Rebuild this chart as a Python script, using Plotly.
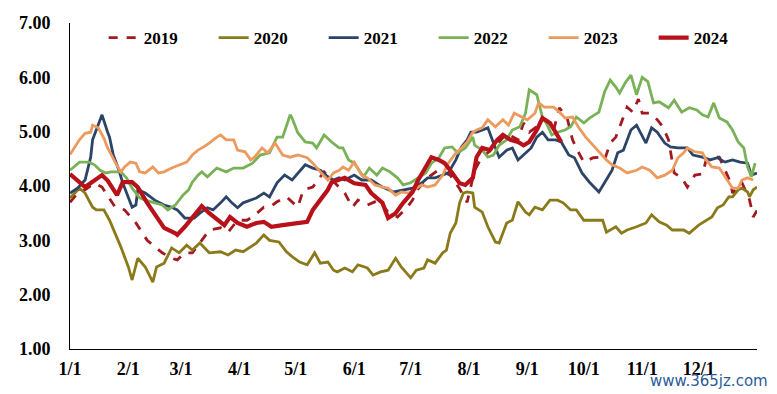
import plotly.graph_objects as go

# Day-of-year positions (0 = Jan 1) and values
d2019 = [0,4,8,13,17,19,24,29,35,41,49,54,57,61,65,70,74,80,84,89,94,97,103,106,110,115,121,124,129,133,135,
         146,150,153,158,164,169,174,179,182,185,190,196,202,207,211,215,218,228,232,238,241,244,248,251,257,260,264,
         267,270,273,278,282,284,287,290,293,296,299,302,304,308,312,315,318,320,321,325,328,332,336,338,342,345,348,
         351,352,357,361,363,365]
v2019 = [3.70,3.87,3.93,4.05,3.98,3.87,3.61,3.56,3.32,3.00,2.77,2.67,2.64,2.77,2.77,3.00,3.19,3.23,3.15,3.37,3.37,3.43,
         3.61,3.61,3.71,3.80,3.61,3.93,3.98,4.17,4.26,
         3.87,3.61,3.74,3.65,3.74,3.52,3.43,3.60,3.74,3.95,4.15,4.30,4.20,3.95,3.70,4.29,4.48,4.81,4.97,4.85,5.16,
         4.99,5.09,5.25,5.03,5.44,5.27,4.85,4.63,4.44,4.52,4.53,4.48,4.79,4.90,5.16,5.45,5.36,5.60,5.34,5.34,5.22,
         5.09,4.85,4.48,4.24,4.15,3.98,4.20,4.22,4.48,4.53,4.53,4.29,4.06,3.87,4.06,3.75,3.43,3.55]

d2020 = [0,5,8,12,14,18,21,27,31,33,36,40,44,46,50,54,58,62,65,69,74,80,84,88,92,96,99,103,106,111,115,118,122,126,
         130,133,137,140,142,146,150,153,158,161,165,169,173,176,181,184,188,190,194,198,200,202,205,207,209,211,214,
         215,219,222,226,228,230,232,235,238,242,244,247,251,255,259,262,266,269,273,276,283,285,290,293,296,301,306,
         309,313,317,320,326,329,334,337,341,344,347,350,352,355,357,360,361,363,365]
v2020 = [3.78,3.96,3.87,3.61,3.56,3.56,3.37,2.88,2.51,2.27,2.67,2.51,2.23,2.51,2.58,2.86,2.77,2.91,2.82,2.95,2.77,2.79,
         2.73,2.82,2.79,2.88,2.95,3.10,3.00,2.97,2.79,2.70,2.60,2.55,2.77,2.58,2.60,2.45,2.42,2.49,2.42,2.55,2.49,2.36,
         2.42,2.45,2.67,2.51,2.31,2.45,2.49,2.64,2.58,2.77,2.82,3.13,3.32,3.69,3.87,3.89,3.87,3.61,3.52,3.25,2.97,2.95,
         3.13,3.32,3.37,3.71,3.52,3.47,3.61,3.56,3.74,3.74,3.69,3.56,3.56,3.37,3.37,3.37,3.15,3.25,3.13,3.19,3.25,3.32,
         3.47,3.34,3.28,3.19,3.19,3.13,3.28,3.34,3.43,3.60,3.65,3.80,3.80,3.93,3.96,3.89,3.80,3.93,3.98]

d2021 = [0,4,8,11,12,15,17,20,21,23,26,28,31,33,35,36,40,45,50,54,57,61,66,69,73,76,80,83,86,89,92,96,99,103,106,110,
         114,118,122,125,129,133,137,140,143,146,151,155,160,166,172,177,182,187,190,194,198,201,205,208,211,213,216,219,
         222,225,228,232,235,238,242,245,248,251,254,258,261,265,268,272,276,281,284,288,291,294,298,301,306,309,312,
         316,319,323,328,331,336,340,344,348,352,356,360,362,365]
v2021 = [3.87,3.96,4.11,4.53,4.85,5.12,5.31,4.99,4.90,4.57,4.29,4.06,3.80,3.61,3.65,3.93,3.87,3.74,3.65,3.61,3.56,3.41,
         3.41,3.50,3.60,3.56,3.69,3.80,3.69,3.60,3.69,3.74,3.78,3.87,3.80,4.06,4.20,4.11,4.26,4.39,4.33,4.29,4.17,4.11,
         4.15,4.11,4.20,4.11,4.11,3.98,3.89,3.93,3.96,4.06,4.15,4.15,4.20,4.24,4.48,4.72,4.85,4.99,4.99,5.03,5.07,4.79,
         4.53,4.66,4.70,4.48,4.61,4.70,4.90,4.99,4.85,4.85,4.81,4.57,4.52,4.24,4.07,3.89,4.06,4.29,4.61,4.66,5.03,5.12,
         4.79,5.07,4.99,4.79,4.72,4.70,4.70,4.57,4.53,4.48,4.52,4.44,4.48,4.44,4.42,4.20,4.24]

d2022 = [0,5,10,13,16,19,22,27,30,33,37,40,45,49,52,56,60,63,65,68,70,73,78,83,87,92,97,101,106,110,113,117,118,121,
         125,129,131,135,139,143,145,148,151,156,159,163,166,170,174,177,181,185,189,192,196,199,203,206,210,214,215,
         219,222,225,228,232,235,239,242,244,248,251,253,256,259,263,266,269,273,276,281,284,287,290,292,295,298,301,
         304,307,310,313,318,321,325,329,333,336,339,342,345,349,352,355,358,360,362,364]
v2022 = [4.29,4.44,4.44,4.39,4.29,4.24,4.26,4.26,4.15,3.96,3.78,3.74,3.69,3.65,3.56,3.65,3.83,3.93,4.07,4.20,4.26,4.17,
         4.33,4.26,4.33,4.33,4.42,4.57,4.61,4.90,4.90,5.31,5.25,4.98,4.81,4.79,4.70,4.94,4.81,4.70,4.70,4.48,4.42,4.17,
         4.33,4.20,4.33,4.26,4.15,4.02,4.06,4.15,4.24,4.42,4.52,4.70,4.72,4.61,4.70,4.90,4.75,4.66,4.53,4.57,4.75,4.85,
         5.03,5.09,5.34,5.77,5.68,5.27,5.16,4.94,4.99,5.03,5.09,5.27,5.16,5.25,5.36,5.73,5.95,5.82,5.71,5.90,6.04,5.68,
         6.00,5.92,5.53,5.55,5.44,5.58,5.36,5.44,5.40,5.31,5.27,5.53,5.25,5.18,5.03,4.81,4.70,4.35,4.17,4.42]

d2023 = [0,5,8,11,12,15,18,20,24,27,29,32,35,37,40,43,44,47,50,54,58,62,65,68,71,74,78,80,83,87,89,93,96,98,102,105,
         109,113,117,121,126,129,133,137,140,143,145,148,151,155,158,162,166,169,173,176,180,183,187,190,194,198,201,
         205,208,211,214,216,219,222,226,230,233,236,240,243,247,249,252,257,260,263,267,270,274,278,282,285,288,292,
         296,301,304,308,312,316,320,323,326,328,332,336,338,341,345,348,352,355,357,360,363]
v2023 = [4.58,4.85,4.97,4.99,5.12,5.07,4.88,4.70,4.44,4.26,4.35,4.44,4.42,4.26,4.24,4.33,4.35,4.24,4.26,4.33,4.39,4.44,
         4.57,4.66,4.72,4.79,4.90,4.94,4.85,4.85,4.66,4.63,4.48,4.53,4.70,4.61,4.79,4.57,4.53,4.57,4.52,4.42,4.26,4.11,
         4.24,4.29,4.35,4.29,4.44,4.20,4.15,4.02,3.98,3.96,3.83,3.89,3.87,3.93,4.02,3.98,4.02,4.20,4.42,4.61,4.70,4.81,
         4.99,5.03,5.07,5.22,5.09,5.22,5.12,5.34,5.27,5.22,5.34,5.53,5.45,5.45,5.36,5.25,5.27,5.09,4.90,4.75,4.61,4.48,
         4.39,4.33,4.24,4.29,4.35,4.29,4.15,4.20,4.29,4.52,4.61,4.70,4.63,4.61,4.48,4.35,4.33,4.17,3.96,3.96,4.11,4.15,
         4.11]

d2024 = [0,8,17,20,25,28,33,36,41,49,50,56,57,61,65,70,74,80,82,85,89,94,99,103,107,113,122,126,129,133,137,139,146,
         151,157,160,166,169,173,177,182,185,189,192,196,199,202,207,210,214,216,219,223,227,230,234,238,241,244,248,
         251,255,258,261]
v2024 = [4.22,3.98,4.20,4.10,3.83,4.07,4.07,3.98,3.69,3.28,3.23,3.13,3.10,3.25,3.41,3.63,3.50,3.34,3.28,3.43,3.32,3.25,
         3.32,3.34,3.25,3.28,3.32,3.34,3.56,3.74,3.93,4.07,4.15,4.05,4.02,3.87,3.69,3.41,3.50,3.69,3.89,4.11,4.35,4.53,
         4.48,4.42,4.29,4.05,4.02,4.15,4.53,4.70,4.66,4.85,4.94,4.85,4.81,4.75,4.81,5.03,5.25,5.16,4.99,4.81]

tick_days = [0, 31, 59, 90, 120, 151, 181, 212, 243, 273, 304, 334]
tick_text = ["1/1", "2/1", "3/1", "4/1", "5/1", "6/1", "7/1", "8/1", "9/1", "10/1", "11/1", "12/1"]
y_ticks = [1, 2, 3, 4, 5, 6, 7]

series = [
    ("2019", d2019, v2019, "#A3191F", 2.8, "dash"),
    ("2020", d2020, v2020, "#8A7A1A", 2.8, "solid"),
    ("2021", d2021, v2021, "#2B4468", 2.8, "solid"),
    ("2022", d2022, v2022, "#79B256", 2.8, "solid"),
    ("2023", d2023, v2023, "#EC9A5E", 2.8, "solid"),
    ("2024", d2024, v2024, "#B8111A", 4.2, "solid"),
]

fig = go.Figure()
for name, xs, ys, color, w, dash in series:
    fig.add_trace(go.Scatter(x=xs, y=ys, name=name, mode="lines",
                             line=dict(color=color, width=w, dash=dash)))

font_serif = "Liberation Serif, Times New Roman, serif"
fig.update_layout(
    width=777, height=394,
    margin=dict(l=62, r=28, t=15, b=53, autoexpand=False),
    paper_bgcolor="white", plot_bgcolor="white",
    font=dict(family=font_serif, size=18, color="black", weight="bold"),
    showlegend=True,
    legend=dict(orientation="h", x=0.049, xanchor="left", y=0.954, yanchor="middle",
                entrywidth=65, entrywidthmode="pixels", bgcolor="rgba(0,0,0,0)",
                font=dict(family=font_serif, size=17, color="black", weight="bold"),
                itemwidth=30),
    xaxis=dict(range=[0, 365], tickvals=tick_days, ticktext=tick_text, showgrid=False,
               zeroline=False, showline=True, linecolor="black", linewidth=1, ticks="",
               ticklabelstandoff=3),
    yaxis=dict(range=[1, 7], tickvals=y_ticks, tickformat=".2f", showgrid=False,
               zeroline=False, showline=True, linecolor="black", linewidth=1, ticks="",
               ticklabelstandoff=15),
    annotations=[dict(text="www.365jz.com", xref="paper", yref="paper", x=1.019, y=-0.133,
                      xanchor="right", yanchor="bottom", showarrow=False,
                      font=dict(family="DejaVu Sans, sans-serif", size=15, color="#2D5C9A",
                                weight="normal"))],
)

fig.write_html("out.html")
